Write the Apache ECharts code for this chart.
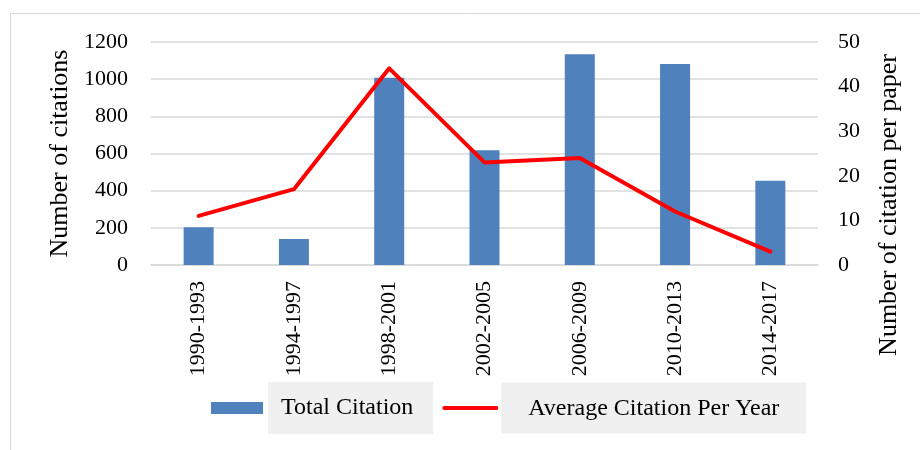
<!DOCTYPE html>
<html>
<head>
<meta charset="utf-8">
<script src="https://cdn.jsdelivr.net/npm/echarts@6/dist/echarts.min.js"></script>
<style>
  html, body { margin: 0; padding: 0; background: #fff; }
  #chart { width: 920px; height: 450px; }
</style>
</head>
<body>
<div id="chart"></div>
<script>
// data
var periods = ["1990-1993", "1994-1997", "1998-2001", "2002-2005", "2006-2009", "2010-2013", "2014-2017"];
var totalCitation = [203, 140, 1008, 617, 1134, 1082, 454];
var avgPerYear = [11, 17, 44.1, 23, 24, 12, 3];
var leftTicks = { min: 0, max: 1200, interval: 200 };
var rightTicks = { min: 0, max: 50, interval: 10 };

var font = "Liberation Serif";

var chart = echarts.init(document.getElementById("chart"));

var option = {
  animation: false,
  backgroundColor: "#fff",
  textStyle: { fontFamily: font, color: "#000" },
  grid: { left: 151, right: 102, top: 42, bottom: 185 },
  graphic: [
    {
      type: "rect",
      z: -10,
      shape: { x: 10.5, y: 13.5, width: 1000, height: 1000 },
      style: { fill: null, stroke: "#d9d9d9", lineWidth: 1 }
    },
    {
      type: "text",
      x: 889,
      y: 205,
      rotation: Math.PI / 2,
      style: {
        text: "Number of citation per paper",
        font: "26px " + font,
        fill: "#000",
        align: "center",
        verticalAlign: "middle"
      }
    }
  ],
  legend: {
    left: 211,
    top: 382,
    padding: 0,
    itemWidth: 52,
    itemHeight: 12,
    itemGap: 9,
    data: [
      { name: "Total Citation", icon: "rect" },
      {
        name: "Average Citation Per Year",
        itemStyle: { opacity: 0, borderWidth: 0 },
        lineStyle: { width: 4, color: "#ff0000", cap: "round" }
      }
    ],
    formatter: function (name) {
      return name === "Total Citation" ? "{a|" + name + "}" : "{b|" + name + "}";
    },
    textStyle: {
      fontFamily: font,
      fontSize: 24,
      color: "#000",
      rich: {
        a: {
          fontFamily: font, fontSize: 24, lineHeight: 25,
          backgroundColor: "#f0f0f0",
          padding: [14, 20, 14, 13]
        },
        b: {
          fontFamily: font, fontSize: 24, lineHeight: 25,
          backgroundColor: "#f0f0f0",
          padding: [14, 27, 13, 27]
        }
      }
    }
  },
  xAxis: {
    type: "category",
    data: periods,
    axisLine: { lineStyle: { color: "#d9d9d9", width: 1.5 } },
    axisTick: { show: false },
    axisLabel: { rotate: 90, fontSize: 22, fontFamily: font, color: "#000", margin: 16 }
  },
  yAxis: [
    {
      type: "value",
      min: leftTicks.min,
      max: leftTicks.max,
      interval: leftTicks.interval,
      name: "Number of citations",
      nameLocation: "middle",
      nameGap: 71,
      nameTextStyle: { fontSize: 26, fontFamily: font, color: "#000" },
      axisLine: { show: false },
      axisTick: { show: false },
      axisLabel: {
        fontSize: 22, fontFamily: font, color: "#000", margin: 23,
        formatter: function (v) { return String(v); }
      },
      splitLine: { lineStyle: { color: "#d9d9d9", width: 1.5 } }
    },
    {
      type: "value",
      min: rightTicks.min,
      max: rightTicks.max,
      interval: rightTicks.interval,
      axisLine: { show: false },
      axisTick: { show: false },
      axisLabel: { fontSize: 22, fontFamily: font, color: "#000", margin: 20 },
      splitLine: { show: false }
    }
  ],
  series: [
    {
      name: "Total Citation",
      type: "bar",
      data: totalCitation,
      barWidth: 30,
      itemStyle: { color: "#4f81bd" }
    },
    {
      name: "Average Citation Per Year",
      type: "line",
      yAxisIndex: 1,
      data: avgPerYear,
      symbol: "none",
      lineStyle: { color: "#ff0000", width: 4, cap: "round", join: "round" },
      itemStyle: { color: "#ff0000" }
    }
  ]
};

chart.setOption(option);
</script>
</body>
</html>
